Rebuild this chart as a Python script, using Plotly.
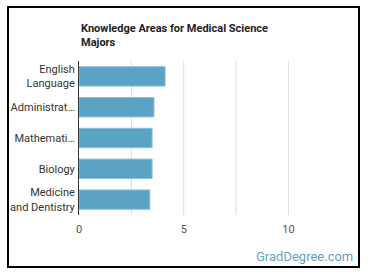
import plotly.graph_objects as go

categories = ["English<br>Language", "Administrat…", "Mathemati…", "Biology", "Medicine<br>and Dentistry"]
values = [4.11, 3.58, 3.49, 3.49, 3.38]
x_ticks = [0, 5, 10]

W, H = 370, 278
L, R, T, B = 79, 25, 61, 63
pw, ph = W - L - R, H - T - B

def px_x(p):
    return (p - L) / pw

def px_y(p):
    return (H - B - p) / ph

fig = go.Figure(go.Bar(
    x=values, y=categories, orientation="h",
    marker=dict(color="#5ba3c4", line=dict(color="#8cc0d8", width=1)),
    hoverinfo="skip",
))

fig.update_layout(
    width=W, height=H,
    margin=dict(l=L, r=R, t=T, b=B, autoexpand=False),
    paper_bgcolor="white", plot_bgcolor="white",
    bargap=0.37,
    showlegend=False,
    font=dict(family="Roboto", size=11, color="#333333"),
    xaxis=dict(range=[0, 12.7], tickvals=x_ticks, automargin=False,
               showgrid=False, zeroline=False, ticklabelstandoff=6,
               tickfont=dict(size=11, color="#555555"), ticks="", ticklen=0),
    yaxis=dict(autorange="reversed", showline=True, linecolor="#333333", linewidth=1,
               automargin=False, ticks="", ticklabelstandoff=1,
               tickfont=dict(size=11, color="#333333")),
)

# vertical gridlines every 2.5
for g in [2.5, 5, 7.5, 10]:
    fig.add_shape(type="line", xref="x", yref="paper", x0=g, x1=g, y0=0, y1=1,
                  line=dict(color="#dddddd", width=1), layer="below")

# frame
fig.add_shape(type="rect", xref="paper", yref="paper",
              x0=px_x(8), x1=px_x(359), y0=px_y(267), y1=px_y(7),
              line=dict(color="black", width=2))

fig.add_annotation(xref="paper", yref="paper", x=0, y=px_y(20), xanchor="left", yanchor="top",
                   text="<b>Knowledge Areas for Medical Science<br>Majors</b>", align="left",
                   showarrow=False, font=dict(family="Roboto", size=11, color="#222222"))

fig.add_annotation(xref="paper", yref="paper", x=px_x(355), y=px_y(256), xanchor="right", yanchor="middle",
                   text="GradDegree.com", showarrow=False,
                   font=dict(family="Roboto", size=13, color="#6a9fc0"))

fig.write_html("out.html")
